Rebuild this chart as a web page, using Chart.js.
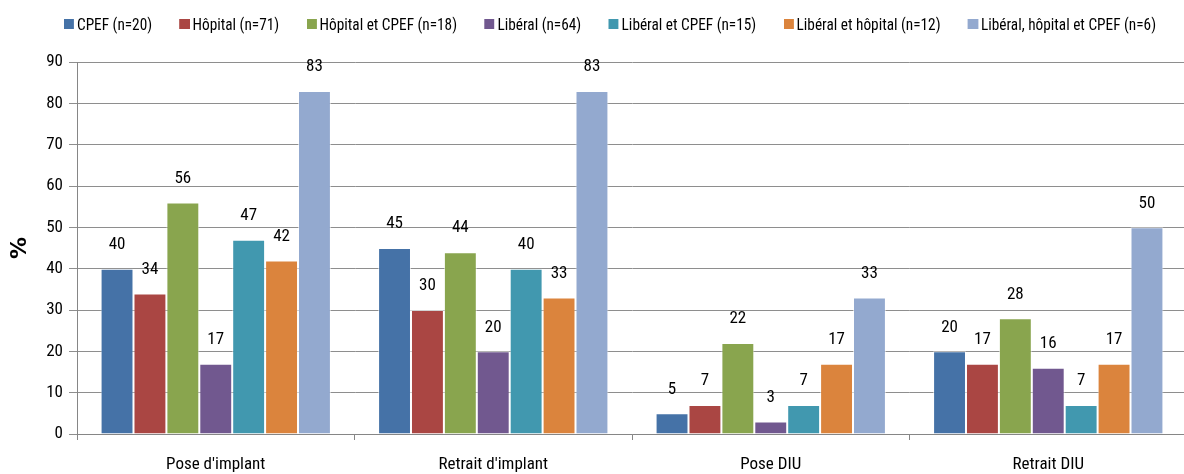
<!DOCTYPE html>
<html lang="fr">
  <head>
    <meta charset="utf-8">
    <title>Actes par lieu d'exercice</title>
    <script src="https://cdn.jsdelivr.net/npm/chart.js@4/dist/chart.umd.min.js"></script>
    <style>
      html, body { margin: 0; padding: 0; background: #fff; overflow: hidden; }
      #wrap { position: relative; width: 1190px; height: 474px; }
      #chart { display: block; }
      #legend {
        position: absolute; left: 64px; top: 14px;
        display: flex; gap: 30.5px; align-items: center;
        font-family: 'Roboto Condensed', sans-serif; font-size: 17px; color: #000;
        white-space: nowrap;
        transform: scaleX(0.90); transform-origin: left center;
      }
      #legend span.item { display: flex; align-items: center; }
      #legend span.box { width: 11.1px; height: 10px; margin-right: 3.3px; display: inline-block; }
    </style>
  </head>
  <body>
    <div id="wrap">
      <div id="legend"></div>
      <canvas id="chart" width="1190" height="474"></canvas>
    </div>

    <script>
      // Categories and series
      const categories = ["Pose d'implant", "Retrait d'implant", "Pose DIU", "Retrait DIU"];
      const seriesNames = [
        "CPEF (n=20)",
        "Hôpital (n=71)",
        "Hôpital et CPEF (n=18)",
        "Libéral (n=64)",
        "Libéral et CPEF (n=15)",
        "Libéral et hôpital (n=12)",
        "Libéral, hôpital et CPEF (n=6)"
      ];
      const cpef        = [40, 45, 5, 20];
      const hopital     = [34, 30, 7, 17];
      const hopCpef     = [56, 44, 22, 28];
      const liberal     = [17, 20, 3, 16];
      const libCpef     = [47, 40, 7, 7];
      const libHop      = [42, 33, 17, 17];
      const libHopCpef  = [83, 83, 33, 50];
      const yTicks = [0, 10, 20, 30, 40, 50, 60, 70, 80, 90];

      const colours = ["#4572a7", "#aa4643", "#89a54e", "#71588f", "#4198af", "#db843d", "#93a9cf"];
      const values = [cpef, hopital, hopCpef, liberal, libCpef, libHop, libHopCpef];

      const font = "'Roboto Condensed', sans-serif";

      // legend as plain html above the canvas
      const legend = document.getElementById("legend");
      seriesNames.forEach((name, i) => {
        const item = document.createElement("span");
        item.className = "item";
        const box = document.createElement("span");
        box.className = "box";
        box.style.background = colours[i];
        item.appendChild(box);
        item.appendChild(document.createTextNode(name));
        legend.appendChild(item);
      });

      // draws the value above each bar
      const valueLabels = {
        id: "valueLabels",
        afterDatasetsDraw(chart) {
          const ctx = chart.ctx;
          ctx.save();
          ctx.font = "17px " + font;
          ctx.fillStyle = "#000";
          ctx.textAlign = "center";
          ctx.textBaseline = "middle";
          chart.data.datasets.forEach((ds, i) => {
            chart.getDatasetMeta(i).data.forEach((bar, j) => {
              ctx.fillText(ds.data[j], bar.x, bar.y - 24);
            });
          });
          ctx.restore();
        }
      };

      new Chart("chart", {
        type: "bar",
        data: {
          labels: categories,
          datasets: seriesNames.map((name, i) => ({
            label: name,
            data: values[i],
            backgroundColor: colours[i],
            borderColor: "rgba(255,255,255,0.6)",
            borderWidth: 1,
            categoryPercentage: 0.83,
            barPercentage: 1.0
          }))
        },
        options: {
          responsive: false,
          animation: false,
          layout: { padding: { left: 0, right: 3, top: 62, bottom: 0 } },
          plugins: {
            tooltip: { enabled: false },
            legend: { display: false }
          },
          scales: {
            x: {
              afterFit(scale) { scale.height = 40; },
              grid: { offset: true, drawOnChartArea: false, tickLength: 6, color: "#868686" },
              border: { color: "#868686" },
              ticks: { color: "#000", padding: 15, font: { family: font, size: 17 } }
            },
            y: {
              min: 0,
              max: 90,
              afterFit(scale) { scale.width = 77; },
              afterBuildTicks(axis) { axis.ticks = yTicks.map(v => ({ value: v })); },
              grid: { color: "#8e8e8e", tickLength: 8 },
              border: { color: "#868686" },
              ticks: { color: "#000", padding: 6, font: { family: font, size: 17 } },
              title: {
                display: true,
                text: "%",
                color: "#000",
                padding: { top: 7, bottom: 12 },
                font: { family: "'DejaVu Sans', sans-serif", size: 22, weight: "bold" }
              }
            }
          }
        },
        plugins: [valueLabels]
      });
    </script>
  </body>
</html>
